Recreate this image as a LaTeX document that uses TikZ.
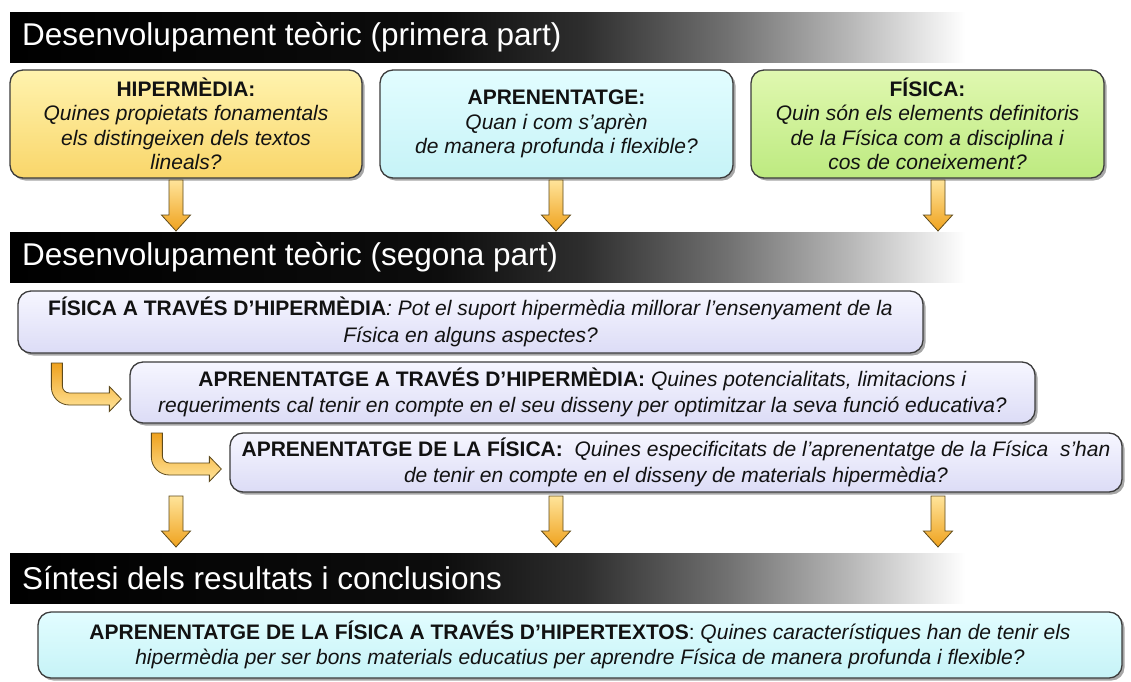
\documentclass[tikz,border=0pt]{standalone}
\usepackage{fontspec}
\setmainfont{Liberation Sans}
\usetikzlibrary{shadows,calc}
\definecolor{boxborder}{HTML}{3C3C3C}
\definecolor{ytop}{HTML}{FFF3AE}\definecolor{ybot}{HTML}{F9D66A}
\definecolor{ctop}{HTML}{E2FDFF}\definecolor{cbot}{HTML}{C6F3F7}
\definecolor{gtop}{HTML}{E0F8B0}\definecolor{gbot}{HTML}{BDEA80}
\definecolor{ltop}{HTML}{F6F6FF}\definecolor{lbot}{HTML}{DCDCF6}
\definecolor{atop}{HTML}{FFE49A}\definecolor{abot}{HTML}{EFA21E}
\definecolor{aborder}{HTML}{5E4A1C}
\pgfdeclarehorizontalshading{barshade}{100bp}{color(0bp)=(black); color(25bp)=(black); color(47.5bp)=(black!95); color(55bp)=(black!82); color(62.5bp)=(black!56); color(69bp)=(black!28); color(75bp)=(white); color(100bp)=(white)}
\begin{document}
\begin{tikzpicture}[x=1pt,y=-1pt,
  box/.style={draw=boxborder, line width=1.3pt, rounded corners=13pt, align=center, inner sep=0pt,
    drop shadow={shadow xshift=2.5pt, shadow yshift=-2.5pt, fill=black, opacity=0.35},
    font=\fontsize{21}{24.5}\selectfont, text=black!93},
  lowbox/.style={box, font=\fontsize{21}{26.5}\selectfont},
  ybox/.style={top color=ytop, bottom color=ybot},
  cbox/.style={top color=ctop, bottom color=cbot},
  gbox/.style={top color=gtop, bottom color=gbot},
  lbox/.style={top color=ltop, bottom color=lbot},
  bar/.style={shade, shading=barshade, inner sep=0pt, anchor=north west, minimum width=955pt, minimum height=50pt},
  bartext/.style={text=white, font=\fontsize{31.5}{36}\selectfont, anchor=west, inner sep=0pt},
  arrfill/.style={draw=aborder, line width=0.8pt, top color=atop, bottom color=abot},
  bentfill/.style={draw=aborder, line width=0.8pt, top color=abot, bottom color=atop},
  downarrow/.pic={\path[arrfill] (-7,0) -- (-7,35) -- (-14.5,35) -- (0,51) -- (14.5,35) -- (7,35) -- (7,0) -- cycle;},
  bentarrow/.pic={\path[bentfill] (-70,-36) [rounded corners=18pt] -- (-70,6) [sharp corners] -- (-12,6) -- (-12,12.5) -- (0,0) -- (-12,-12.5) -- (-12,-6) [rounded corners=7pt] -- (-59,-6) [sharp corners] -- (-59,-36) -- cycle;}
]
\useasboundingbox (0,0) rectangle (1131,681);
\fill[white] (0,0) rectangle (1131,681);

% section bars
\node[bar] (bar1) at (10,12) {};
\node[bartext] (t1) at ($(bar1.west)+(12,0)$) {Desenvolupament teòric (primera part)};
\node[bar] (bar2) at (10,232) {};
\node[bartext] (t2) at ($(bar2.west)+(12,0)$) {Desenvolupament teòric (segona part)};
\node[bar] (bar3) at (10,553) {};
\node[bartext] (t3) at ($(bar3.west)+(12,0)$) {Síntesi dels resultats i conclusions};

% first row
\node[box, ybox, minimum width=352pt, minimum height=108pt] (hip) at (186,124)
  {\textbf{HIPERMÈDIA:}\\\textit{Quines propietats fonamentals}\\\textit{els distingeixen dels textos}\\\textit{lineals?}};
\node[box, cbox, minimum width=353pt, minimum height=108pt] (apr) at (556.5,124)
  {\textbf{APRENENTATGE:}\\\textit{Quan i com s’aprèn}\\\textit{de manera profunda i flexible?}};
\node[box, gbox, minimum width=353pt, minimum height=108pt] (fis) at (927.5,124)
  {\textbf{FÍSICA:}\\\textit{Quin són els elements definitoris}\\\textit{de la Física com a disciplina i}\\\textit{cos de coneixement?}};

\pic at (176,180) {downarrow};
\pic at (556,180) {downarrow};
\pic at (938,180) {downarrow};

% second part
\node[lowbox, lbox, minimum width=905pt, minimum height=62pt] (A) at (470.5,322)
  {\textbf{FÍSICA A TRAVÉS D’HIPERMÈDIA}\textit{: Pot el suport hipermèdia millorar l’ensenyament de la}\\\textit{Física en alguns aspectes?}};
\node[lowbox, lbox, minimum width=905pt, minimum height=61pt] (B) at (582.5,392.5)
  {\textbf{APRENENTATGE A TRAVÉS D’HIPERMÈDIA:} \textit{Quines potencialitats, limitacions i}\\\textit{requeriments cal tenir en compte en el seu disseny per optimitzar la seva funció educativa?}};
\node[lowbox, lbox, minimum width=892pt, minimum height=59pt] (C) at (676,462.5)
  {\textbf{APRENENTATGE DE LA FÍSICA:}\ \ \textit{Quines especificitats de l’aprenentatge de la Física\ \ s’han}\\\textit{de tenir en compte en el disseny de materials hipermèdia?}};

\pic at ($(B.west)+(-8,6.5)$) {bentarrow};
\pic at ($(C.west)+(-8,6.5)$) {bentarrow};

\pic at (176,496) {downarrow};
\pic at (556,496) {downarrow};
\pic at (938,496) {downarrow};

% synthesis
\node[box, cbox, minimum width=1084pt, minimum height=66pt] (D) at (580,645)
  {\textbf{APRENENTATGE DE LA FÍSICA A TRAVÉS D’HIPERTEXTOS}: \textit{Quines característiques han de tenir els}\\\textit{hipermèdia per ser bons materials educatius per aprendre Física de manera profunda i flexible?}};
\end{tikzpicture}
\end{document}
